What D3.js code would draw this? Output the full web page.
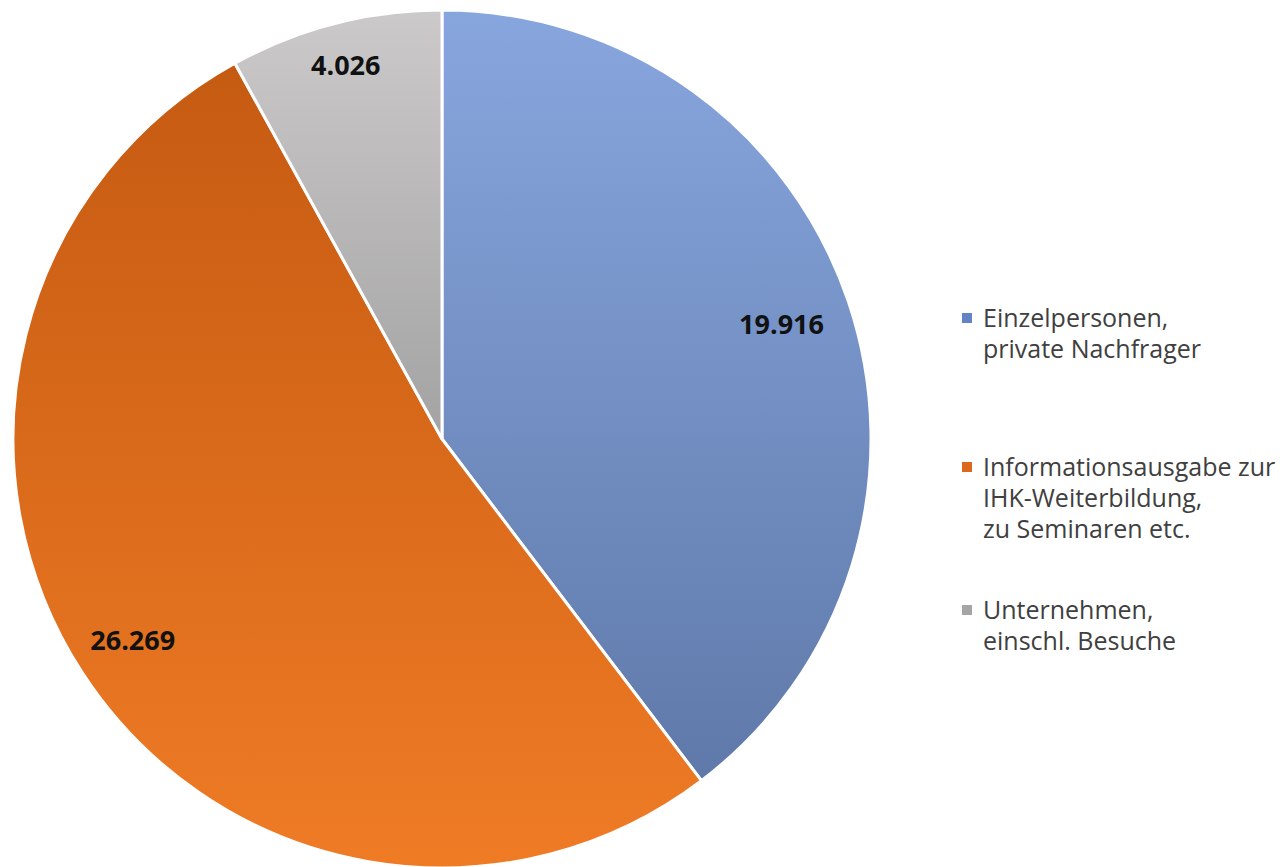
<!DOCTYPE html>
<html>
<head>
<meta charset="utf-8">
<title>Pie</title>
<script src="https://d3js.org/d3.v7.min.js"></script>
<style>
  body { margin: 0; background: #fff; }
  text { font-family: "Open Sans", "Noto Sans", sans-serif; }
</style>
</head>
<body>
<svg width="1285" height="867"></svg>
<script>
// data
const categories = ["Einzelpersonen, private Nachfrager", "Informationsausgabe zur IHK-Weiterbildung, zu Seminaren etc.", "Unternehmen, einschl. Besuche"];
const legendLines = [["Einzelpersonen,", "private Nachfrager"], ["Informationsausgabe zur", "IHK-Weiterbildung,", "zu Seminaren etc."], ["Unternehmen,", "einschl. Besuche"]];
const values = [19916, 26269, 4026];
const valueLabels = ["19.916", "26.269", "4.026"];
const gradStops = [["#88a6de", "#5a74a3"], ["#c25810", "#ef7b25"], ["#cbc9c9", "#7d7d7d"]];
const legendColors = ["#6283c4", "#dc681c", "#a5a5a5"];

const svg = d3.select("svg");
const cx = 442, cy = 439, r = 429;

const defs = svg.append("defs");
gradStops.forEach((s, i) => {
  const g = defs.append("linearGradient")
    .attr("id", "grad" + i)
    .attr("gradientUnits", "userSpaceOnUse")
    .attr("x1", 0).attr("y1", -r).attr("x2", 0).attr("y2", r);
  g.append("stop").attr("offset", "0%").attr("stop-color", s[0]);
  g.append("stop").attr("offset", "100%").attr("stop-color", s[1]);
});

const pie = d3.pie().sort(null).value(d => d);
const arcs = pie(values);
const arc = d3.arc().innerRadius(0).outerRadius(r);

const g = svg.append("g").attr("transform", `translate(${cx},${cy})`);

g.selectAll("path")
  .data(arcs)
  .join("path")
  .attr("d", arc)
  .attr("fill", (d, i) => `url(#grad${i})`)
  .attr("stroke", "#fff")
  .attr("stroke-width", 3)
  .attr("stroke-linejoin", "round");

// value labels (best fit-ish: small slices pushed further out)
const labelR = [0.835, 0.86, 0.9];
g.selectAll("text.val")
  .data(arcs)
  .join("text")
  .attr("class", "val")
  .attr("transform", (d, i) => {
    const a = d3.arc().innerRadius(r * labelR[i]).outerRadius(r * labelR[i]);
    return `translate(${a.centroid(d)})`;
  })
  .attr("text-anchor", "middle")
  .attr("dy", "0.36em")
  .attr("font-size", 27)
  .attr("font-weight", "bold")
  .attr("fill", "#111")
  .text((d, i) => valueLabels[i]);

// legend
const legendY = [318, 467, 610];
const lg = svg.append("g");
legendLines.forEach((lines, i) => {
  lg.append("rect")
    .attr("x", 962).attr("y", legendY[i] - 5)
    .attr("width", 10).attr("height", 10)
    .attr("fill", legendColors[i]);
  const t = lg.append("text")
    .attr("x", 983).attr("y", legendY[i])
    .attr("font-size", 25)
    .attr("fill", "#404040");
  lines.forEach((l, j) => {
    t.append("tspan").attr("x", 983).attr("dy", j === 0 ? "0.36em" : 31).text(l);
  });
});
</script>
</body>
</html>
